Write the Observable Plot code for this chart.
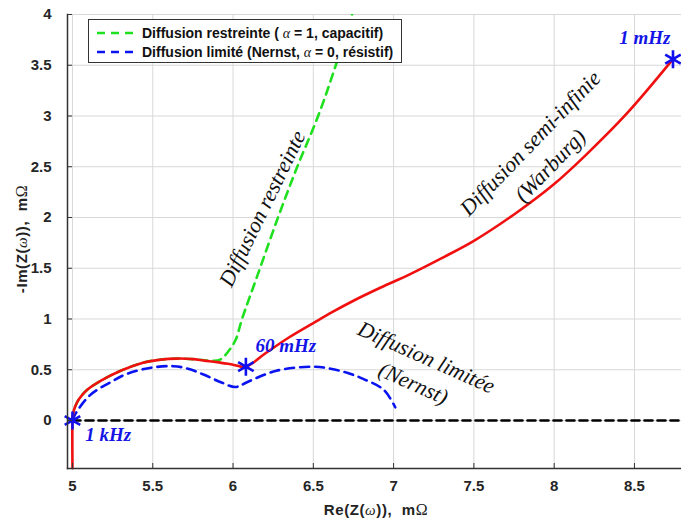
<!DOCTYPE html>
<html>
<head>
<meta charset="utf-8">
<script src="https://cdn.jsdelivr.net/npm/d3@7"></script>
<script src="https://cdn.jsdelivr.net/npm/@observablehq/plot@0.6"></script>
<style>
  body { margin: 0; background: #fff; }
  #wrap { position: relative; width: 681px; height: 521px; overflow: hidden; }
  .legend { position: absolute; left: 88px; top: 19px; width: 314px; height: 44px; border: 1.5px solid #333; background: #fff; box-sizing: border-box;
            font-family: "Liberation Sans", Arial, sans-serif; font-weight: bold; font-size: 14px; color: #111; }
  .legend .row { position: absolute; left: 0; height: 18px; display: flex; align-items: center; white-space: nowrap; }
  .legend svg { margin-left: 8px; margin-right: 4px; }
  .greek { font-family: "Liberation Serif", "Times New Roman", serif; font-style: italic; font-weight: normal; }
  .axt { position: absolute; font-family: "Liberation Sans", Arial, sans-serif; font-weight: bold; font-size: 15px; letter-spacing: 0.6px; color: #222; white-space: nowrap; }
  .ser { font-family: "Liberation Serif", "Times New Roman", serif; font-weight: normal; font-size: 16px; }
</style>
</head>
<body>
<div id="wrap"></div>
<script>
// Tick values
const xTicks = [5, 5.5, 6, 6.5, 7, 7.5, 8, 8.5];
const yTicks = [0, 0.5, 1, 1.5, 2, 2.5, 3, 3.5, 4];

// Red: full response (semi-infinite Warburg)
const redX = [5, 5, 5.003, 5.015, 5.04, 5.09, 5.175, 5.3, 5.44, 5.55, 5.65, 5.75, 5.82, 5.9, 6.0, 6.08, 6.2, 6.35, 6.5, 6.62, 6.75, 6.92, 7.1, 7.3, 7.5, 7.75, 8.0, 8.2, 8.45, 8.74];
const redY = [-0.47, 0, 0.06, 0.13, 0.21, 0.3, 0.39, 0.49, 0.57, 0.6, 0.61, 0.605, 0.59, 0.575, 0.55, 0.53, 0.66, 0.82, 0.96, 1.07, 1.18, 1.31, 1.44, 1.6, 1.77, 2.03, 2.33, 2.62, 3.02, 3.56];

// Green dashed: restricted diffusion (capacitive)
const greenX = [5, 5.003, 5.015, 5.04, 5.09, 5.175, 5.3, 5.44, 5.55, 5.65, 5.75, 5.85, 5.92, 5.97, 6.015, 6.056, 6.15, 6.28, 6.4, 6.53, 6.64, 6.76];
const greenY = [0, 0.06, 0.13, 0.21, 0.3, 0.39, 0.49, 0.57, 0.6, 0.61, 0.605, 0.59, 0.6, 0.68, 0.79, 1.0, 1.42, 2.0, 2.5, 3.0, 3.5, 4.1];

// Blue dashed: limited diffusion (Nernst, resistive)
const blueX = [5, 5.02, 5.11, 5.24, 5.34, 5.49, 5.63, 5.72, 5.82, 5.92, 6.015, 6.09, 6.27, 6.5, 6.607, 6.71, 6.81, 6.94, 7.01];
const blueY = [0, 0.07, 0.25, 0.38, 0.46, 0.52, 0.535, 0.51, 0.45, 0.38, 0.33, 0.38, 0.49, 0.53, 0.51, 0.47, 0.41, 0.30, 0.13];

// Zero reference (black dashed)
const zeroX = [5, 8.8];
const zeroY = [0, 0];

// Frequency markers
const starX = [5, 6.08, 8.74];
const starY = [0, 0.53, 3.56];
const freqText = ["1 kHz", "60 mHz", "1 mHz"];
const freqX = [5.08, 6.14, 8.405];
const freqY = [-0.14, 0.73, 3.77];

// Region annotations
const noteText = ["Diffusion restreinte", "Diffusion semi-infinie", "(Warburg)", "Diffusion limitée", "(Nernst)"];
const noteX = [6.183, 7.852, 7.976, 7.204, 7.123];
const noteY = [2.087, 2.73, 2.51, 0.62, 0.364];
const noteRot = [-64, -46, -46, 24, 24];

const pts = (xs, ys) => xs.map((x, i) => ({x, y: ys[i]}));
const red = pts(redX, redY), green = pts(greenX, greenY), blue = pts(blueX, blueY), zero = pts(zeroX, zeroY), stars = pts(starX, starY);
const freqs = freqText.map((t, i) => ({t, x: freqX[i], y: freqY[i]}));
const notes = noteText.map((t, i) => ({t, x: noteX[i], y: noteY[i], r: noteRot[i]}));

const chart = Plot.plot({
  width: 681, height: 521,
  marginLeft: 67, marginRight: 0, marginTop: 14, marginBottom: 53,
  x: {domain: [4.969, 8.793], label: null},
  y: {domain: [-0.473, 4], label: null},
  style: {fontFamily: "Liberation Sans, Arial, sans-serif", fontSize: "15px", fontWeight: "bold", color: "#262626", background: "white"},
  marks: [
    Plot.gridX(xTicks, {stroke: "#d8d8d8", strokeOpacity: 1, strokeWidth: 1}),
    Plot.gridY(yTicks, {stroke: "#d8d8d8", strokeOpacity: 1, strokeWidth: 1}),
    Plot.line(zero, {x: "x", y: "y", stroke: "black", strokeWidth: 2.6, strokeDasharray: "8,5"}),
    Plot.line(green, {x: "x", y: "y", stroke: "#1fe01f", strokeWidth: 2.6, strokeDasharray: "8,6", curve: "catmull-rom", clip: true}),
    Plot.line(blue, {x: "x", y: "y", stroke: "#0a14f0", strokeWidth: 2.6, strokeDasharray: "9,6", curve: "catmull-rom"}),
    Plot.line(red, {x: "x", y: "y", stroke: "#f01010", strokeWidth: 2.6, curve: "catmull-rom"}),
    Plot.dot(stars, {x: "x", y: "y", symbol: "asterisk", r: 8.5, stroke: "#1010ee", strokeWidth: 2.6}),
    Plot.text(freqs, {x: "x", y: "y", text: "t", textAnchor: "start", lineAnchor: "middle", fill: "#1414e6",
      fontFamily: "Liberation Serif, Times New Roman, serif", fontStyle: "italic", fontWeight: "bold", fontSize: 19}),
    Plot.text(notes, {x: "x", y: "y", text: "t", rotate: "r", textAnchor: "middle", lineAnchor: "middle", fill: "#111",
      fontFamily: "Liberation Serif, Times New Roman, serif", fontStyle: "italic", fontWeight: "normal", fontSize: 22}),
    Plot.frame({anchor: "left", stroke: "#333", strokeWidth: 1.5}),
    Plot.frame({anchor: "bottom", stroke: "#333", strokeWidth: 1.5}),
    Plot.axisX({ticks: xTicks, tickSize: -5, tickPadding: 17, stroke: "#333", label: null, tickFormat: d => String(d)}),
    Plot.axisY({ticks: yTicks, tickSize: -5, tickPadding: 21, stroke: "#333", label: null, tickFormat: d => String(d)})
  ]
});

const wrap = document.getElementById("wrap");
wrap.appendChild(chart);

// Legend overlay (inside plot area)
const legend = document.createElement("div");
legend.className = "legend";
legend.innerHTML = `
  <div class="row" style="top:4px">
    <svg width="41" height="6"><line x1="0" y1="3" x2="41" y2="3" stroke="#1fe01f" stroke-width="2.6" stroke-dasharray="8,6"/></svg>
    <span>Diffusion restreinte ( <span class="greek">α</span> = 1, capacitif)</span>
  </div>
  <div class="row" style="top:23px">
    <svg width="41" height="6"><line x1="0" y1="3" x2="41" y2="3" stroke="#0a14f0" stroke-width="2.6" stroke-dasharray="8,6"/></svg>
    <span>Diffusion limité (Nernst, <span class="greek">α</span> = 0, résistif)</span>
  </div>`;
wrap.appendChild(legend);

// Axis titles
const xt = document.createElement("div");
xt.className = "axt";
xt.style.left = "376px"; xt.style.top = "510px"; xt.style.transform = "translate(-50%,-50%)";
xt.innerHTML = `Re(Z(<span class="greek">ω</span>)),&nbsp; m<span class="ser">Ω</span>`;
wrap.appendChild(xt);

const yt = document.createElement("div");
yt.className = "axt";
yt.style.left = "22px"; yt.style.top = "239px"; yt.style.transform = "translate(-50%,-50%) rotate(-90deg)";
yt.innerHTML = `-Im(Z(<span class="greek">ω</span>)),&nbsp; m<span class="ser">Ω</span>`;
wrap.appendChild(yt);
</script>
</body>
</html>
